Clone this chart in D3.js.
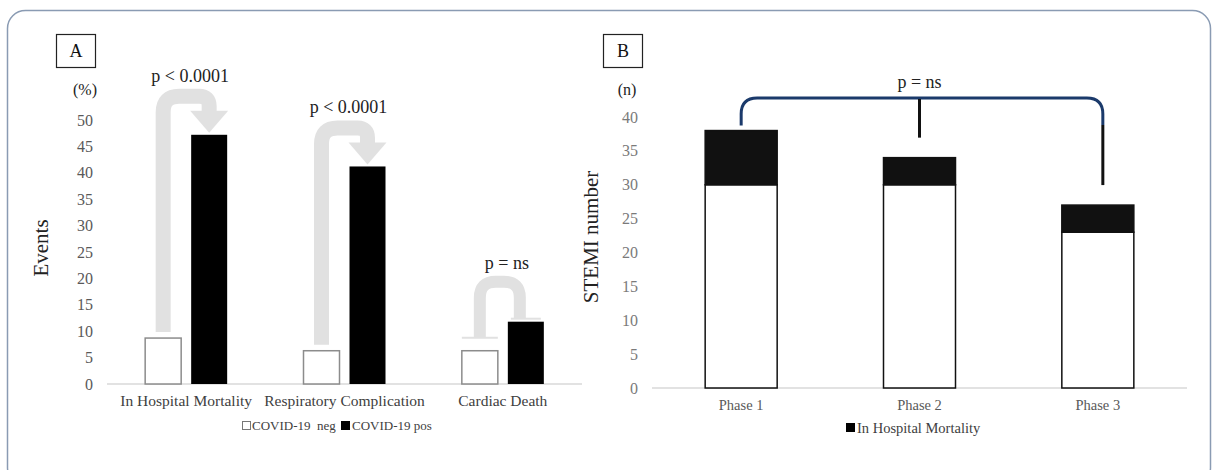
<!DOCTYPE html>
<html>
<head>
<meta charset="utf-8">
<title>STEMI events</title>
<script src="https://d3js.org/d3.v7.min.js"></script>
<style>
  body { margin: 0; background: #fff; }
  svg { display: block; font-family: 'Liberation Serif', 'Times New Roman', serif; }
</style>
</head>
<body>
<svg width="1214" height="470"></svg>
<script>
  // panel A data
  const eventCats = ['In Hospital Mortality', 'Respiratory Complication', 'Cardiac Death'];
  const covidNeg = [8.7, 6.3, 6.3];
  const covidPos = [47.2, 41.2, 11.8];
  const pValuesA = ['p < 0.0001', 'p < 0.0001', 'p = ns'];
  const ticksA = [0, 5, 10, 15, 20, 25, 30, 35, 40, 45, 50];
  const seriesA = ['COVID-19  neg', 'COVID-19 pos'];

  // panel B data
  const phases = ['Phase 1', 'Phase 2', 'Phase 3'];
  const survivors = [30, 30, 23];
  const mortality = [8, 4, 4];
  const ticksB = [0, 5, 10, 15, 20, 25, 30, 35, 40];
  const seriesB = ['In Hospital Mortality'];
  const pValueB = 'p = ns';

  const svg = d3.select('svg');

  // outer frame
  svg.append('rect')
    .attr('x', 7.5).attr('y', 10.5)
    .attr('width', 1203).attr('height', 475)
    .attr('rx', 18)
    .attr('fill', 'none')
    .attr('stroke', '#8a9bb3')
    .attr('stroke-width', 1.5);

  // ---------- panel A ----------
  const xA = d3.scaleBand().domain(eventCats).range([107, 582]);
  const yA = d3.scaleLinear().domain([0, 50]).range([384, 120]);
  const barW = 36, gap = 10;
  const negX = c => xA(c) + xA.bandwidth() / 2 - gap / 2 - barW;
  const posX = c => xA(c) + xA.bandwidth() / 2 + gap / 2;

  const gA = svg.append('g');

  gA.append('rect').attr('x', 56.5).attr('y', 34.5).attr('width', 39).attr('height', 33)
    .attr('fill', '#fff').attr('stroke', '#222').attr('stroke-width', 1.2);
  gA.append('text').attr('x', 76).attr('y', 57).attr('text-anchor', 'middle')
    .attr('font-size', 18).attr('fill', '#111').text('A');

  gA.append('text').attr('x', 85).attr('y', 95).attr('text-anchor', 'middle')
    .attr('font-size', 16).attr('fill', '#222').text('(%)');

  gA.selectAll('text.tick').data(ticksA).enter().append('text')
    .attr('class', 'tick')
    .attr('x', 93).attr('y', d => yA(d) + 5.5)
    .attr('text-anchor', 'end')
    .attr('font-size', 16).attr('fill', '#595959')
    .text(d => d);

  gA.append('text')
    .attr('transform', 'translate(48,248) rotate(-90)')
    .attr('text-anchor', 'middle')
    .attr('font-size', 21).attr('fill', '#222')
    .text('Events');

  gA.append('line').attr('x1', 107).attr('x2', 582)
    .attr('y1', yA(0)).attr('y2', yA(0))
    .attr('stroke', '#d9d9d9').attr('stroke-width', 1.5);

  // significance arrows (light grey)
  eventCats.forEach((c, i) => {
    const sx = negX(c) + barW / 2;
    const sy = yA(covidNeg[i]);
    const tx = posX(c) + barW / 2;
    const ty = yA(covidPos[i]);
    const bandTop = ty - 46;
    const grey = '#e1e1e1';
    if (pValuesA[i] === 'p = ns') {
      const w = 12, r = 16;
      const cy = bandTop + w / 2;
      const rx = tx - 6;
      gA.append('path')
        .attr('d', `M${sx},${sy - 13} V${cy + r} Q${sx},${cy} ${sx + r},${cy} H${rx - r} Q${rx},${cy} ${rx},${cy + r} V${ty - 3}`)
        .attr('fill', 'none').attr('stroke', grey).attr('stroke-width', w);
      gA.append('line').attr('x1', negX(c)).attr('x2', negX(c) + barW)
        .attr('y1', sy - 13).attr('y2', sy - 13)
        .attr('stroke', grey).attr('stroke-width', 2);
      gA.append('line').attr('x1', posX(c) + 3).attr('x2', posX(c) + barW - 3)
        .attr('y1', ty - 3).attr('y2', ty - 3)
        .attr('stroke', grey).attr('stroke-width', 2);
    } else {
      const w = 15, r = 16;
      const cy = bandTop + w / 2;
      const headTop = ty - 24;
      gA.append('path')
        .attr('d', `M${sx},${sy - 6} V${cy + r} Q${sx},${cy} ${sx + r},${cy} H${tx - 10} Q${tx},${cy} ${tx},${cy + 10} V${headTop + 1}`)
        .attr('fill', 'none').attr('stroke', grey).attr('stroke-width', w);
      gA.append('path')
        .attr('d', `M${tx - barW / 2 - 1},${headTop} L${tx + barW / 2 + 1},${headTop} L${tx},${ty - 2} Z`)
        .attr('fill', grey);
    }
    gA.append('text')
      .attr('x', (sx + tx) / 2 + 4).attr('y', bandTop - 7)
      .attr('text-anchor', 'middle')
      .attr('font-size', 18).attr('fill', '#222')
      .text(pValuesA[i]);
  });

  gA.selectAll('rect.neg').data(eventCats).enter().append('rect')
    .attr('class', 'neg')
    .attr('x', d => negX(d)).attr('width', barW)
    .attr('y', (d, i) => yA(covidNeg[i]))
    .attr('height', (d, i) => yA(0) - yA(covidNeg[i]))
    .attr('fill', '#fff').attr('stroke', '#8c8c8c').attr('stroke-width', 1.5);

  gA.selectAll('rect.pos').data(eventCats).enter().append('rect')
    .attr('class', 'pos')
    .attr('x', d => posX(d)).attr('width', barW)
    .attr('y', (d, i) => yA(covidPos[i]))
    .attr('height', (d, i) => yA(0) - yA(covidPos[i]))
    .attr('fill', '#000');

  gA.selectAll('text.cat').data(eventCats).enter().append('text')
    .attr('class', 'cat')
    .attr('x', d => xA(d) + xA.bandwidth() / 2).attr('y', 406)
    .attr('text-anchor', 'middle')
    .attr('font-size', 15.5).attr('fill', '#404040')
    .text(d => d);

  // legend A
  const legA = gA.append('g').attr('transform', 'translate(242,430)');
  legA.append('rect').attr('x', 0.5).attr('y', -8.5).attr('width', 8).attr('height', 8)
    .attr('fill', '#fff').attr('stroke', '#777');
  legA.append('text').attr('x', 10).attr('y', 0).attr('font-size', 13).attr('fill', '#404040')
    .attr('xml:space', 'preserve').text(seriesA[0]);
  legA.append('rect').attr('x', 99).attr('y', -9).attr('width', 9).attr('height', 9).attr('fill', '#000');
  legA.append('text').attr('x', 110).attr('y', 0).attr('font-size', 13).attr('fill', '#404040')
    .text(seriesA[1]);

  // ---------- panel B ----------
  const xB = d3.scaleBand().domain(phases).range([652, 1187]);
  const yB = d3.scaleLinear().domain([0, 40]).range([388, 117]);
  const bW = 72;
  const bX = d => xB(d) + xB.bandwidth() / 2 - bW / 2;
  const cX = d => xB(d) + xB.bandwidth() / 2;
  const totals = survivors.map((v, i) => v + mortality[i]);

  const gB = svg.append('g');

  gB.append('rect').attr('x', 603.5).attr('y', 34.5).attr('width', 39).attr('height', 33)
    .attr('fill', '#fff').attr('stroke', '#222').attr('stroke-width', 1.2);
  gB.append('text').attr('x', 623).attr('y', 57).attr('text-anchor', 'middle')
    .attr('font-size', 18).attr('fill', '#111').text('B');

  gB.append('text').attr('x', 627).attr('y', 95).attr('text-anchor', 'middle')
    .attr('font-size', 16).attr('fill', '#222').text('(n)');

  gB.selectAll('text.tick').data(ticksB).enter().append('text')
    .attr('class', 'tick')
    .attr('x', 638).attr('y', d => yB(d) + 5.5)
    .attr('text-anchor', 'end')
    .attr('font-size', 16).attr('fill', '#7a7a7a')
    .text(d => d);

  gB.append('text')
    .attr('transform', 'translate(598,237) rotate(-90)')
    .attr('text-anchor', 'middle')
    .attr('font-size', 21).attr('fill', '#222')
    .text('STEMI number');

  gB.append('line').attr('x1', 652).attr('x2', 1187)
    .attr('y1', yB(0)).attr('y2', yB(0))
    .attr('stroke', '#d9d9d9').attr('stroke-width', 1.5);

  gB.selectAll('rect.alive').data(phases).enter().append('rect')
    .attr('class', 'alive')
    .attr('x', d => bX(d)).attr('width', bW)
    .attr('y', (d, i) => yB(survivors[i]))
    .attr('height', (d, i) => yB(0) - yB(survivors[i]))
    .attr('fill', '#fff').attr('stroke', '#111').attr('stroke-width', 1.5);

  gB.selectAll('rect.dead').data(phases).enter().append('rect')
    .attr('class', 'dead')
    .attr('x', d => bX(d)).attr('width', bW)
    .attr('y', (d, i) => yB(totals[i]))
    .attr('height', (d, i) => yB(survivors[i]) - yB(totals[i]))
    .attr('fill', '#111').attr('stroke', '#111').attr('stroke-width', 1.5);

  // bracket across phases
  const by = yB(40) - 19;
  const lx = cX(phases[0]), mx = cX(phases[1]), rx = cX(phases[2]) + 5;
  const navy = '#1b3a6b', r = 16;
  gB.append('path')
    .attr('d', `M${lx},${yB(totals[0]) - 5} V${by + r} Q${lx},${by} ${lx + r},${by} H${rx - r} Q${rx},${by} ${rx},${by + r} V${by + 27}`)
    .attr('fill', 'none').attr('stroke', navy).attr('stroke-width', 3);
  gB.append('line').attr('x1', rx).attr('x2', rx)
    .attr('y1', by + 27).attr('y2', yB(totals[2]) - 20)
    .attr('stroke', '#111').attr('stroke-width', 3);
  gB.append('line').attr('x1', mx).attr('x2', mx)
    .attr('y1', by + 1).attr('y2', yB(totals[1]) - 20)
    .attr('stroke', '#111').attr('stroke-width', 3);
  gB.append('text').attr('x', mx).attr('y', by - 10)
    .attr('text-anchor', 'middle').attr('font-size', 18).attr('fill', '#222')
    .text(pValueB);

  gB.selectAll('text.cat').data(phases).enter().append('text')
    .attr('class', 'cat')
    .attr('x', d => cX(d)).attr('y', 410)
    .attr('text-anchor', 'middle')
    .attr('font-size', 14.5).attr('fill', '#595959')
    .text(d => d);

  const legB = gB.append('g').attr('transform', 'translate(846,433)');
  legB.append('rect').attr('x', 0).attr('y', -10).attr('width', 9).attr('height', 9).attr('fill', '#000');
  legB.append('text').attr('x', 11).attr('y', 0).attr('font-size', 14.5).attr('fill', '#404040')
    .text(seriesB[0]);
</script>
</body>
</html>
